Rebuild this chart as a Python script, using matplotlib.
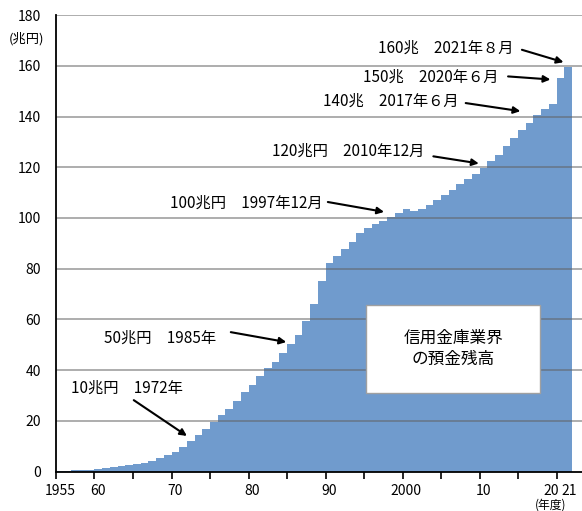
import matplotlib
matplotlib.use('Agg')
import matplotlib.pyplot as plt
from matplotlib.patches import Rectangle

plt.rcParams['font.family'] = ['Noto Sans CJK JP', 'DejaVu Sans']

# 年度ごとの預金残高（兆円）
years = list(range(1955, 2022))
deposits = [0.3, 0.4, 0.5, 0.6, 0.7,
            0.9, 1.3, 1.7, 2.2, 2.6,
            3.0, 3.5, 4.3, 5.4, 6.6,
            7.9, 9.6, 12.1, 14.6, 17.0,
            19.7, 22.3, 24.7, 27.9, 31.4,
            34.3, 37.8, 40.7, 43.3, 46.9,
            50.2, 53.8, 59.5, 66.0, 75.1,
            82.2, 84.9, 87.6, 90.4, 94.1,
            96.2, 97.8, 98.8, 100.4, 102.0,
            103.5, 102.8, 103.4, 105.3, 107.2,
            109.2, 111.2, 113.5, 115.2, 117.2,
            119.6, 122.4, 125.0, 128.2, 131.5,
            134.5, 137.4, 140.4, 143.1, 145.1,
            155.3, 159.7]

tick_pos = list(range(1955, 2021, 5))
label_pos = [1955.5, 1960.5, 1970.5, 1980.5, 1990.5, 2000.5, 2010.5, 2019.3, 2021.6]
label_txt = ['1955', '60', '70', '80', '90', '2000', '10', '20', '21']

# 注記: (テキスト, テキスト位置, 矢印の始点, 矢印の先)
notes = [
    ('10兆円\u30001972年', (1964.2, 33.0), (1965.1, 28.2), (1972.0, 14.1)),
    ('50兆円\u30001985年', (1968.5, 52.6), (1977.7, 55.0), (1984.9, 51.1)),
    ('100兆円\u30001997年12月', (1979.7, 105.8), (1990.3, 106.3), (1997.6, 102.4)),
    ('120兆円\u30002010年12月', (1992.9, 126.3), (2004.0, 124.3), (2009.9, 121.5)),
    ('140兆\u30002017年６月', (1998.5, 145.9), (2008.2, 145.3), (2015.3, 142.1)),
    ('150兆\u30002020年６月', (2003.7, 155.4), (2013.7, 155.8), (2019.2, 154.6)),
    ('160兆\u30002021年８月', (2005.6, 166.8), (2015.5, 166.3), (2020.9, 161.4)),
]

fig = plt.figure(figsize=(5.82, 5.11), dpi=100)
ax = fig.add_axes([0.0962, 0.0769, 0.9038, 0.8937])

# 階段状の面（各年度の棒を隙間なく）
edges = years + [years[-1] + 1]
ax.fill_between(edges, deposits + [deposits[-1]], step='post',
                color='#709bcd', lw=0, zorder=2)

ax.set_xlim(1955, 2023.3)
ax.set_ylim(0, 180)
ax.set_yticks(range(0, 181, 20))
for y in range(20, 181, 20):
    ax.axhline(y, color='#606060', alpha=0.55, lw=1.3, zorder=3)

ax.set_xticks(tick_pos)
ax.set_xticklabels([])
ax.set_xticks(label_pos, minor=True)
ax.set_xticklabels(label_txt, minor=True)
ax.tick_params(axis='x', which='major', length=5, width=1.2, direction='out')
ax.tick_params(axis='x', which='minor', length=0, pad=9, labelsize=10)
ax.tick_params(axis='y', length=0, pad=11, labelsize=10)

for s in ['top', 'right']:
    ax.spines[s].set_visible(False)
for s in ['left', 'bottom']:
    ax.spines[s].set_linewidth(1.3)
    ax.spines[s].set_zorder(4)

fig.text(27 / 582, 1 - 39 / 511, '(兆円)', fontsize=9.5, ha='center', va='center')
fig.text(551 / 582, 1 - 505 / 511, '(年度)', fontsize=8.5, ha='center', va='center')

for txt, tpos, start, end in notes:
    ax.text(tpos[0], tpos[1], txt, fontsize=11, ha='center', va='center', zorder=5)
    ax.annotate('', xy=end, xytext=start,
                arrowprops=dict(arrowstyle='-|>', color='black', lw=1.5,
                                mutation_scale=10, shrinkA=0, shrinkB=0),
                zorder=5)

ax.add_patch(Rectangle((1995.3, 31.0), 22.6, 34.6, facecolor='white',
                       edgecolor='#a0a0a0', lw=1, zorder=5))
ax.text(2006.6, 48.5, '信用金庫業界\nの預金残高', fontsize=12, ha='center',
        va='center', linespacing=1.35, zorder=6)

fig.savefig('out.png', dpi=100)
